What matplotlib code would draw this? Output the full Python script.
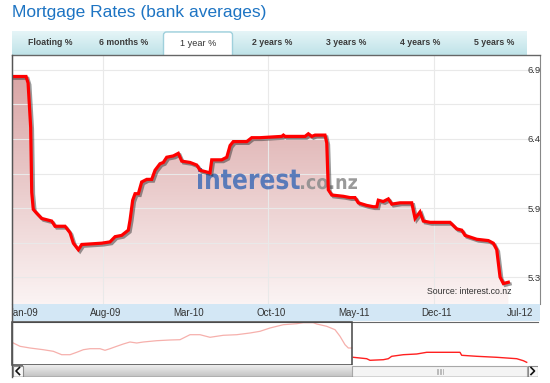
import numpy as np
import matplotlib
matplotlib.use("Agg")
import matplotlib.pyplot as plt
from matplotlib import font_manager
from matplotlib.patches import Rectangle, FancyBboxPatch, PathPatch
from matplotlib.lines import Line2D
from matplotlib.textpath import TextPath
from matplotlib.font_manager import FontProperties
from matplotlib.transforms import Affine2D, offset_copy
import matplotlib.patheffects as pe

# ---------------- data ----------------
title = "Mortgage Rates (bank averages)"
tab_labels = ["Floating %", "6 months %", "1 year %", "2 years %",
              "3 years %", "4 years %", "5 years %"]
active_tab = 2

# main series: months since Jan-2009 and 1-year rate (%)
months = [-0.70, 0.49, 0.66, 0.88, 0.97, 1.10, 1.39, 1.81, 2.66, 2.94,
          3.79, 4.21, 4.49, 4.91, 5.20, 6.89, 7.59, 8.02, 8.58, 9.14,
          9.29, 9.51, 9.71, 9.99, 10.27, 10.70, 11.12, 11.40, 11.82, 12.10,
          12.39, 12.95, 13.37, 13.66, 14.36, 14.93, 15.21, 15.63, 16.05, 16.20,
          16.48, 17.04, 17.47, 17.75, 18.02, 19.16, 19.58, 20.28, 22.12, 22.26,
          22.40, 24.09, 24.37, 24.66, 24.94, 25.78, 25.93, 26.06, 26.35, 27.33,
          27.90, 28.32, 28.60, 29.31, 29.87, 30.16, 30.29, 30.71, 31.14, 31.43,
          32.13, 33.12, 33.40, 33.82, 34.10, 34.67, 36.36, 36.92, 37.35, 37.63,
          38.62, 39.60, 40.02, 40.31, 40.59, 40.87, 41.29]
rates = [6.92, 6.92, 6.87, 6.53, 6.03, 5.90, 5.87, 5.83, 5.81, 5.77,
         5.77, 5.72, 5.64, 5.59, 5.63, 5.64, 5.65, 5.69, 5.70, 5.74,
         5.82, 5.97, 6.02, 6.02, 6.11, 6.13, 6.13, 6.20, 6.25, 6.26,
         6.30, 6.31, 6.33, 6.27, 6.26, 6.24, 6.20, 6.19, 6.18, 6.28,
         6.28, 6.28, 6.30, 6.39, 6.42, 6.42, 6.45, 6.45, 6.46, 6.47,
         6.46, 6.46, 6.48, 6.46, 6.47, 6.47, 6.41, 6.05, 6.01, 6.00,
         5.99, 5.99, 5.95, 5.93, 5.92, 5.92, 5.97, 5.96, 5.98, 5.94,
         5.95, 5.95, 5.83, 5.88, 5.81, 5.80, 5.80, 5.75, 5.74, 5.70,
         5.67, 5.66, 5.64, 5.59, 5.38, 5.33, 5.34]

x_tick_months = [0, 7, 14, 21, 28, 35, 42]
x_tick_labels = ["Jan-09", "Aug-09", "Mar-10", "Oct-10", "May-11", "Dec-11", "Jul-12"]
y_tick_values = [5.38, 5.91, 6.44, 6.97]
y_tick_labels = ["5.3", "5.9", "6.4", "6.9"]

# navigator (overview) series: position in % of range, rate (%)
nav_hist_pos = [0.25, 1.52, 3.42, 5.95, 7.85, 9.45, 11.03, 12.30, 13.56, 14.83,
                16.73, 17.68, 18.63, 19.90, 21.16, 22.43, 23.71, 24.96, 27.51, 30.04,
                31.94, 33.84, 35.74, 37.64, 40.17, 42.72, 45.25, 47.15, 49.05, 51.58,
                54.13, 55.38, 57.28, 57.93, 59.83, 61.41, 62.36, 63.31, 63.94, 64.58]
nav_hist_rate = [6.90, 6.57, 6.40, 6.23, 6.07, 5.73, 5.73, 5.97, 6.23, 6.33,
                 6.33, 6.17, 6.33, 6.57, 6.80, 7.00, 6.90, 7.00, 7.13, 7.20,
                 7.23, 7.73, 7.73, 7.47, 7.67, 7.73, 7.90, 8.07, 8.40, 8.73,
                 8.83, 8.93, 8.93, 8.80, 8.57, 8.23, 7.57, 6.73, 6.40, 6.40]
nav_sel_pos = [64.89, 67.43, 68.06, 70.59, 71.54, 72.19, 74.39, 76.94, 78.84,
               82.00, 85.17, 85.49, 88.34, 92.15, 95.95, 97.21, 97.85]
nav_sel_rate = [5.47, 5.33, 5.17, 5.23, 5.33, 5.57, 5.73, 5.80, 5.97,
                5.97, 5.97, 5.67, 5.57, 5.47, 5.33, 5.13, 4.97]
nav_window_end = 64.7

source_text = "Source: interest.co.nz"
watermark_main = "interest"
watermark_tail = ".co.nz"

# ---------------- style / layout ----------------
W, H = 550, 383
names = {f.name for f in font_manager.fontManager.ttflist}
FONT = "Liberation Sans" if "Liberation Sans" in names else "DejaVu Sans"
plt.rcParams["font.family"] = [FONT, "DejaVu Sans"]

fig = plt.figure(figsize=(W / 100, H / 100), dpi=100)
fig.patch.set_facecolor("white")


def box(x0, y0, x1, y1):
    """pixel box (top-left origin) -> figure rect"""
    return [x0 / W, 1 - y1 / H, (x1 - x0) / W, (y1 - y0) / H]


# title
fig.text(12 / W, 1 - 13 / H, title, fontsize=12.5, color="#1d74c3",
         va="center", ha="left")

# tab bar
ax_tabs = fig.add_axes(box(12, 31, 527, 55))
ax_tabs.set_xlim(12, 527)
ax_tabs.set_ylim(55, 31)
ax_tabs.axis("off")
tg = np.linspace(0, 1, 64)[:, None]
top_c = np.array([0.90, 0.96, 0.97])
bot_c = np.array([0.75, 0.89, 0.91])
tab_img = top_c + (bot_c - top_c) * tg[..., None]
ax_tabs.imshow(tab_img, extent=[12, 527, 55, 31], aspect="auto", zorder=0)
tab_step = 74
tab_first = 50
for i, lab in enumerate(tab_labels):
    cx = tab_first + tab_step * i
    if i == active_tab:
        ax_tabs.add_patch(FancyBboxPatch((cx - 34.5, 32), 69, 26,
                                         boxstyle="round,pad=0,rounding_size=3",
                                         fc="white", ec="#9fd0dc", lw=1, zorder=1))
        ax_tabs.text(cx, 44, lab, ha="center", va="center", fontsize=6.6,
                     color="#333333", zorder=2)
    else:
        ax_tabs.text(cx, 42.5, lab, ha="center", va="center", fontsize=6.3,
                     color="#3a3a3a", fontweight="bold", zorder=2)

# main plot
ax = fig.add_axes(box(12, 55, 540, 304))
xlim = (-0.70, 43.97)
ylim = (5.173, 7.085)

poly = ax.fill_between(months, rates, ylim[0], color="none", lw=0)
clip = PathPatch(poly.get_paths()[0], transform=ax.transData, fc="none", ec="none")
ax.add_patch(clip)
g = np.linspace(0, 1, 256)[:, None]
c_bot = np.array([0.985, 0.955, 0.955])
c_top = np.array([0.84, 0.62, 0.62])
grad = c_bot + (c_top - c_bot) * g[..., None]
im = ax.imshow(grad, extent=[xlim[0], xlim[1], ylim[0], ylim[1]], origin="lower",
               aspect="auto", zorder=1)
im.set_clip_path(clip)

ax.plot(months, rates, color="#ff0000", lw=2.3, zorder=4, solid_joinstyle="miter",
        path_effects=[pe.SimpleLineShadow(offset=(1.3, -1.3), shadow_color="#222222",
                                          alpha=0.45), pe.Normal()])

ax.set_xlim(*xlim)
ax.set_ylim(*ylim)
ax.set_xticks(x_tick_months[1::2])
ax.set_xticklabels([])
ax.tick_params(axis="x", length=0)
ax.yaxis.tick_right()
ax.set_yticks(y_tick_values, labels=y_tick_labels)
mids = [(a + b) / 2 for a, b in zip(y_tick_values[:-1], y_tick_values[1:])]
ax.set_yticks(mids, minor=True)
ax.tick_params(axis="y", which="both", length=0, pad=-8.8, labelsize=6.8,
               labelcolor="#333333")
for lbl in ax.get_yticklabels():
    lbl.set_zorder(6)
ax.grid(True, which="both", color="#e9e9e9", lw=0.8, zorder=2)
ax.set_axisbelow(False)
for sp in ["top", "bottom"]:
    ax.spines[sp].set_visible(False)
ax.spines["left"].set_color("#555555")
ax.spines["right"].set_color("#888888")
ax.set_facecolor("white")
for gl in ax.get_xgridlines() + ax.get_ygridlines():
    gl.set_zorder(2)

# top border line under the tabs
fig.add_artist(Line2D([12 / W, 540 / W], [1 - 55 / H, 1 - 55 / H],
                      color="#666666", lw=1, transform=fig.transFigure, zorder=10))


# watermark
def place_text_path(s, prop, x0, x1, y_base, height, color, alpha):
    tp = TextPath((0, 0), s, size=100, prop=prop)
    bb = tp.get_extents()
    sx = (x1 - x0) / bb.width
    sy = height / bb.y1
    tr = (Affine2D().translate(-bb.x0, 0).scale(sx / W, sy / H)
          .translate(x0 / W, 1 - y_base / H) + fig.transFigure)
    ax.add_patch(PathPatch(tp, transform=tr, fc=color, ec="none", zorder=3,
                           alpha=alpha))


place_text_path(watermark_main, FontProperties(family="DejaVu Sans", weight="bold"),
                198, 300, 189, 21, "#4a72b8", 0.9)
place_text_path(watermark_tail, FontProperties(family="DejaVu Sans", weight="bold"),
                301, 357, 189, 11, "#8f8f8f", 0.9)

ax.text(427 / W, 1 - 291 / H, source_text, transform=fig.transFigure, fontsize=6.3,
        color="#333333", ha="left", va="center", zorder=6)

# x-axis band
ax_band = fig.add_axes(box(12, 304, 540, 321))
ax_band.set_facecolor("#d3e7f5")
ax_band.set_xlim(*xlim)
ax_band.set_ylim(0, 1)
ax_band.set_xticks([])
ax_band.set_yticks([])
for sp in ax_band.spines.values():
    sp.set_visible(False)
ax_band.spines["left"].set_visible(True)
ax_band.spines["left"].set_color("#555555")
lab_tr = offset_copy(ax_band.transData, fig=fig, x=3, y=0, units="dots")
for m, lab in zip(x_tick_months, x_tick_labels):
    ax_band.text(m, 0.45, lab, transform=lab_tr, ha="center", va="center",
                 fontsize=7, color="#333333", clip_on=True)

# navigator
ax_nav = fig.add_axes(box(12, 322, 538, 365))
ax_nav.set_xlim(0, 100)
ax_nav.set_ylim(4.7, 9.0)
ax_nav.plot(nav_hist_pos, nav_hist_rate, color="#f6b0ac", lw=0.9)
ax_nav.plot(nav_sel_pos, nav_sel_rate, color="#ff2020", lw=1.0)
ax_nav.add_patch(Rectangle((0, 4.7), nav_window_end, 4.3, fill=False,
                           ec="#444444", lw=1.1, clip_on=False, zorder=5))
ax_nav.set_xticks([])
ax_nav.set_yticks([])
for sp in ax_nav.spines.values():
    sp.set_visible(False)
ax_nav.spines["top"].set_visible(True)
ax_nav.spines["top"].set_color("#666666")
ax_nav.spines["left"].set_visible(True)
ax_nav.spines["left"].set_color("#555555")

# scrollbar
ax_sb = fig.add_axes(box(12, 365, 538, 377))
ax_sb.set_xlim(12, 538)
ax_sb.set_ylim(377, 365)
ax_sb.axis("off")
win_px = 12 + 526 * nav_window_end / 100
sg = np.linspace(0, 1, 32)[:, None]
s_top = np.array([0.93, 0.93, 0.93])
s_bot = np.array([0.76, 0.76, 0.76])
ax_sb.imshow(s_top + (s_bot - s_top) * sg[..., None], extent=[23, win_px, 377, 365],
             aspect="auto", zorder=0)
ax_sb.add_patch(Rectangle((win_px, 365.5), 527 - win_px, 11, fc="#f4f4f4",
                          ec="#a8a8a8", lw=0.8, zorder=1))
gc = (win_px + 527) / 2
for dx in (-3, -1.5, 0, 1.5, 3):
    ax_sb.plot([gc + dx, gc + dx], [368.5, 373.5], color="#b0b0b0", lw=0.6, zorder=2)
ax_sb.add_patch(Rectangle((12.5, 365.5), 10.5, 11, fc="#f7f7f7", ec="#8a8a8a",
                          lw=0.8, zorder=1))
ax_sb.add_patch(Rectangle((527.5, 365.5), 10.5, 11, fc="#f7f7f7", ec="#8a8a8a",
                          lw=0.8, zorder=1))
ax_sb.plot([19.5, 16, 19.5], [367.5, 371, 374.5], color="#111111", lw=1.2, zorder=3)
ax_sb.plot([531, 534.5, 531], [367.5, 371, 374.5], color="#111111", lw=1.2, zorder=3)
ax_sb.plot([12, 538], [376.8, 376.8], color="#666666", lw=1, zorder=3)

# left border
fig.add_artist(Line2D([12 / W, 12 / W], [1 - 55 / H, 1 - 377 / H], color="#555555",
                      lw=1, transform=fig.transFigure, zorder=10))

fig.savefig("out.png", dpi=100, facecolor="white")
